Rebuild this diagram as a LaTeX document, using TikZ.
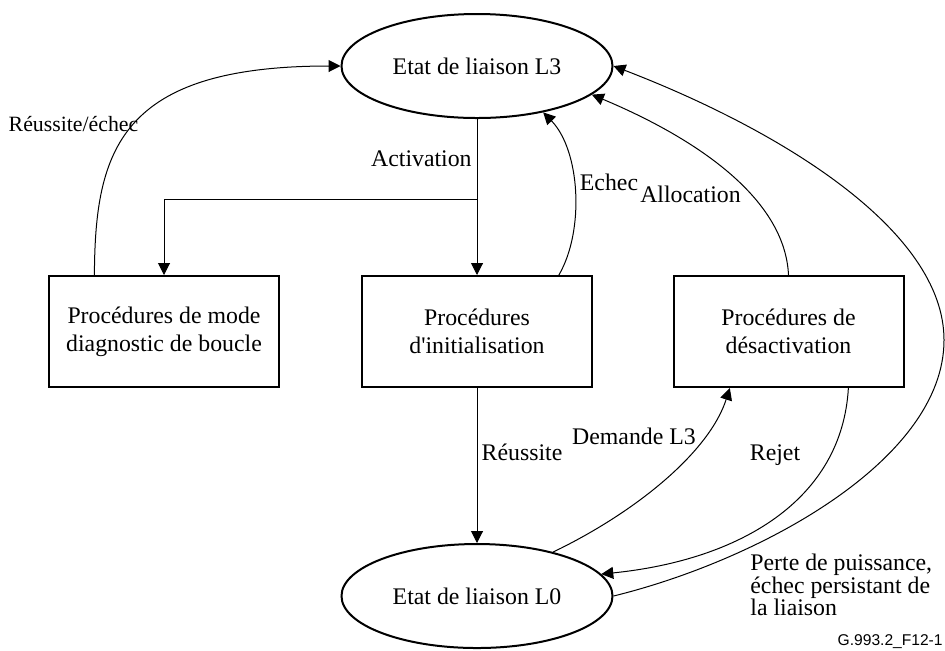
\documentclass[tikz,border=0pt]{standalone}
\usepackage{fontspec}
\setmainfont{Liberation Serif}[Ligatures=TeXOff]
\newfontfamily\labsans{Liberation Sans}
\usetikzlibrary{shapes.geometric,arrows.meta,calc}
\begin{document}
\begin{tikzpicture}[x=0.5pt,y=-0.5pt,
  state/.style={draw,ellipse,line width=1pt,minimum width=135.5pt,minimum height=52pt,inner sep=0pt,font=\fontsize{11.9}{14}\selectfont},
  procbox/.style={draw,rectangle,line width=1pt,minimum width=115pt,minimum height=55.5pt,inner sep=0pt,align=center,font=\fontsize{11.9}{14}\selectfont},
  conn/.style={line width=0.5pt,-{Triangle[length=6pt,width=6pt]}},
  lab/.style={inner sep=0pt,font=\fontsize{11.9}{14}\selectfont}]
\fill[white] (0,0) rectangle (945,650);
\useasboundingbox (0,0) rectangle (945,650);
% states and procedures
\node[state] (L3) at (477,66) {Etat de liaison L3};
\node[state] (L0) at (477,596) {Etat de liaison L0};
\node[procbox] (lbox) at (164,331.5) {Procédures de mode\\diagnostic de boucle};
\node[procbox] (mbox) at (477,331.5) {Procédures\\d'initialisation};
\node[procbox] (rbox) at (788.5,331.5) {Procédures de\\désactivation};
% connectors
\coordinate (br) at (477,199);
\draw[conn] (L3.south) -- (mbox.north);
\draw[conn] (br) -| (lbox.north);
\draw[conn] (mbox.south) -- (L0.north);
\draw[conn] ($(lbox.north west)!0.2!(lbox.north east)$) .. controls (95,150) and (120,66) .. (L3.west);
\draw[conn] ($(mbox.north west)!0.853!(mbox.north east)$) .. controls (585,230) and (580,150) .. (L3.-35);
\draw[conn] (rbox.north) .. controls (785,200) and (700,140) .. (L3.-14);
\draw[conn] (L0.east) .. controls (760,560) and (944,460) .. (944,340) .. controls (944,230) and (780,130) .. (L3.east);
\draw[conn] (L0.30) .. controls (640,510) and (710,450) .. ($(rbox.south west)!0.247!(rbox.south east)$);
\draw[conn] ($(rbox.south west)!0.758!(rbox.south east)$) .. controls (842,500) and (740,560) .. (L0.10);
% labels
\node[lab,font=\fontsize{10.9}{13}\selectfont] (lRE) at (73.5,124) {Réussite/échec};
\node[lab,anchor=east] (lAct) at (472,159) {Activation};
\node[lab] (lEch) at (609,182) {Echec};
\node[lab] (lAll) at (690.5,194) {Allocation};
\node[lab] (lReu) at (522,452) {Réussite};
\node[lab] (lDem) at (634,436) {Demande L3};
\node[lab] (lRej) at (775,455) {Rejet};
\node[lab,align=left,anchor=west,font=\fontsize{11.9}{11.25}\selectfont] (lPerte) at (750,585) {Perte de puissance,\\échec persistant de\\la liaison};
\node[inner sep=0pt,anchor=east,font=\labsans\fontsize{7.8}{9}\selectfont] (fig) at (943,642) {G.993.2\_F12-1};
\end{tikzpicture}
\end{document}
